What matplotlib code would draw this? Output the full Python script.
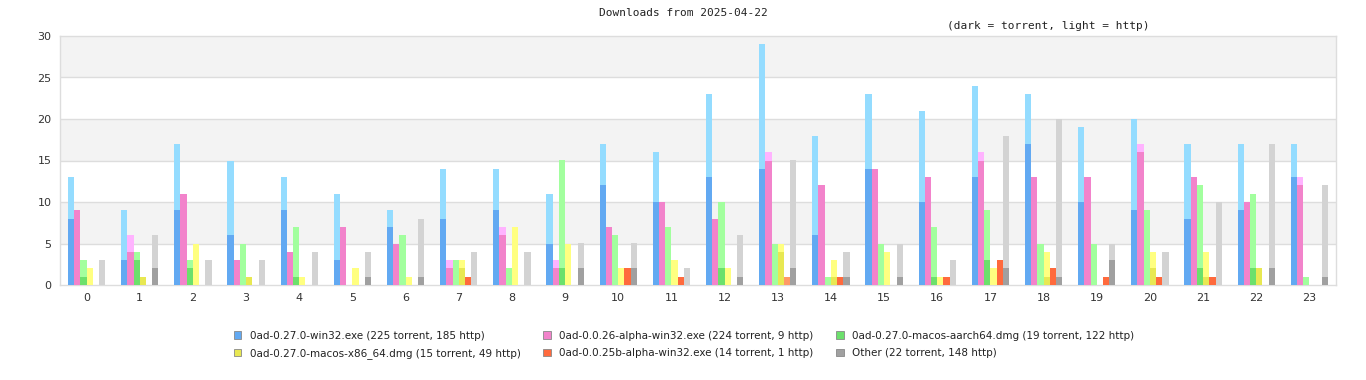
import numpy as np
import matplotlib
matplotlib.use('Agg')
import matplotlib.pyplot as plt
from matplotlib.patches import Patch

hours = list(range(24))

# torrent counts (dark) and total counts (torrent + http) per hour
win32_torrent = [8, 3, 9, 6, 9, 3, 7, 8, 9, 5, 12, 10, 13, 14, 6, 14, 10, 13, 17, 10, 9, 8, 9, 13]
win32_total = [13, 9, 17, 15, 13, 11, 9, 14, 14, 11, 17, 16, 23, 29, 18, 23, 21, 24, 23, 19, 20, 17, 17, 17]
a26_torrent = [9, 4, 11, 3, 4, 7, 5, 2, 6, 2, 7, 10, 8, 15, 12, 14, 13, 15, 13, 13, 16, 13, 10, 12]
a26_total = [9, 6, 11, 3, 4, 7, 5, 3, 7, 3, 7, 10, 8, 16, 12, 14, 13, 16, 13, 13, 17, 13, 10, 13]
arm_torrent = [1, 3, 2, 0, 1, 0, 0, 0, 0, 2, 0, 0, 2, 0, 0, 0, 1, 3, 0, 0, 0, 2, 2, 0]
arm_total = [3, 4, 3, 5, 7, 0, 6, 3, 2, 15, 6, 7, 10, 5, 1, 5, 7, 9, 5, 5, 9, 12, 11, 1]
x86_torrent = [0, 1, 0, 1, 0, 0, 0, 2, 0, 0, 0, 0, 0, 4, 1, 0, 0, 0, 1, 0, 2, 1, 2, 0]
x86_total = [2, 1, 5, 1, 1, 2, 1, 3, 7, 5, 2, 3, 2, 5, 3, 4, 1, 2, 4, 0, 4, 4, 2, 0]
a25_torrent = [0, 0, 0, 0, 0, 0, 0, 1, 0, 0, 2, 1, 0, 0, 1, 0, 1, 3, 2, 1, 1, 1, 0, 0]
a25_total = [0, 0, 0, 0, 0, 0, 0, 1, 0, 0, 2, 1, 0, 1, 1, 0, 1, 3, 2, 1, 1, 1, 0, 0]
other_torrent = [0, 2, 0, 0, 0, 1, 1, 0, 0, 2, 2, 0, 1, 2, 1, 1, 0, 2, 1, 3, 0, 0, 2, 1]
other_total = [3, 6, 3, 3, 4, 4, 8, 4, 4, 5, 5, 2, 6, 15, 4, 5, 3, 18, 20, 5, 4, 10, 17, 12]

labels = [
    "0ad-0.27.0-win32.exe (225 torrent, 185 http)",
    "0ad-0.0.26-alpha-win32.exe (224 torrent, 9 http)",
    "0ad-0.27.0-macos-aarch64.dmg (19 torrent, 122 http)",
    "0ad-0.27.0-macos-x86_64.dmg (15 torrent, 49 http)",
    "0ad-0.0.25b-alpha-win32.exe (14 torrent, 1 http)",
    "Other (22 torrent, 148 http)",
]
dark = ['#62a9f2', '#f283cb', '#6ce06c', '#e8e852', '#ff6a3d', '#a0a0a0']
light = ['#94dcff', '#ffb3ff', '#a2ff9e', '#ffff80', '#ff9966', '#d3d3d3']

series = [
    (win32_torrent, win32_total),
    (a26_torrent, a26_total),
    (arm_torrent, arm_total),
    (x86_torrent, x86_total),
    (a25_torrent, a25_total),
    (other_torrent, other_total),
]

fig = plt.figure(figsize=(13.66, 3.8), dpi=100)
ax = fig.add_axes([60 / 1366, 1 - 285 / 380, 1276 / 1366, 249 / 380])

# alternating background bands
for lo in range(0, 30, 5):
    ax.axhspan(lo, lo + 5, color='#f3f3f3' if (lo // 5) % 2 == 1 else 'white', zorder=0, lw=0)
for y in range(5, 30, 5):
    ax.axhline(y, color='#dddddd', lw=1, zorder=1)

x = np.arange(len(hours))
w = 0.117
for k, (tor, tot) in enumerate(series):
    tor = np.array(tor)
    tot = np.array(tot)
    xs = x + (k - 2.5) * w
    ax.bar(xs, tor, width=w, color=dark[k], zorder=3, lw=0)
    ax.bar(xs, tot - tor, bottom=tor, width=w, color=light[k], zorder=3, lw=0)

ax.set_xlim(-0.5, 23.5)
ax.set_ylim(0, 30)
ax.set_xticks(x)
ax.set_xticklabels([str(h) for h in hours])
ax.set_yticks(range(0, 31, 5))
ax.tick_params(axis='both', length=0, labelsize=8, colors='#333333', pad=6)
for s in ax.spines.values():
    s.set_color('#dddddd')
    s.set_linewidth(1)

fig.text(0.5, 1 - 13 / 380, "Downloads from 2025-04-22", ha='center', va='center',
         family='DejaVu Sans Mono', fontsize=8, color='#222222')
fig.text(1048 / 1366, 1 - 26 / 380, "(dark = torrent, light = http)", ha='center', va='center',
         family='DejaVu Sans Mono', fontsize=8, color='#222222')

handles = [Patch(facecolor=dark[k], edgecolor='#888888', lw=0.6) for k in range(6)]
order = [0, 3, 1, 4, 2, 5]
fig.legend([handles[i] for i in order], [labels[i] for i in order], ncol=3,
           loc='center', bbox_to_anchor=(684 / 1366, 1 - 345 / 380), frameon=False,
           fontsize=7.5, handlelength=0.7, handleheight=0.7, handletextpad=0.8,
           columnspacing=2.2, labelspacing=0.75, labelcolor='#222222')

fig.savefig('out.png', dpi=100)
